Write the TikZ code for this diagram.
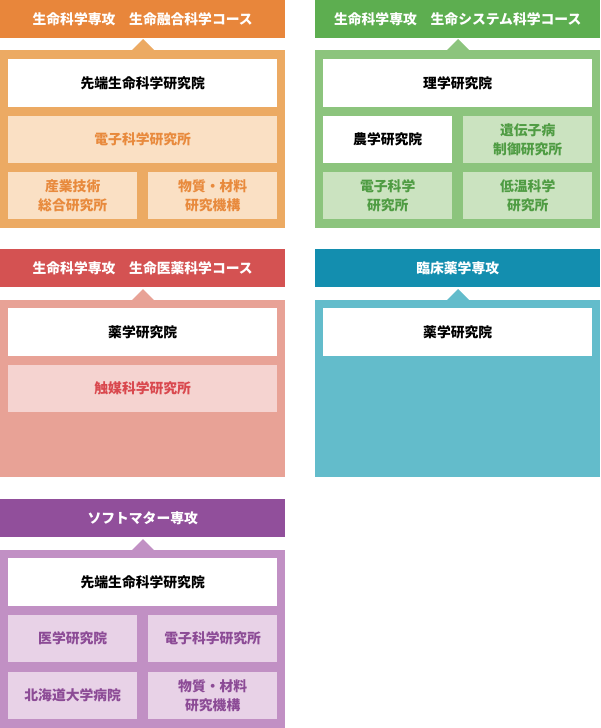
\documentclass[tikz,border=0pt]{standalone}
\usepackage{fontspec}
\setmainfont{Noto Sans CJK JP}
\newcommand{\jpfont}{\bfseries\fontsize{13.8}{18.5}\selectfont}

\definecolor{orHead}{HTML}{E8863B}
\definecolor{orBody}{HTML}{ECAA63}
\definecolor{orBox}{HTML}{FAE0C4}
\definecolor{orText}{HTML}{E88A3D}
\definecolor{grHead}{HTML}{5DAE50}
\definecolor{grBody}{HTML}{8CC47D}
\definecolor{grBox}{HTML}{CBE3C0}
\definecolor{grText}{HTML}{4F9C43}
\definecolor{rdHead}{HTML}{D45252}
\definecolor{rdBody}{HTML}{E8A296}
\definecolor{rdBox}{HTML}{F5D3D0}
\definecolor{rdText}{HTML}{D9484E}
\definecolor{tlHead}{HTML}{138EAF}
\definecolor{tlBody}{HTML}{63BCCB}
\definecolor{puHead}{HTML}{914F9B}
\definecolor{puBody}{HTML}{C190C4}
\definecolor{puBox}{HTML}{E8D2E7}
\definecolor{puText}{HTML}{8C4B96}

\tikzset{
    every node/.style={inner sep=0pt,anchor=north west,align=center,font=\jpfont},
    head/.style={fill=#1,text=white,minimum width=285pt,minimum height=38pt},
    whitebox/.style={fill=white,text=black,minimum width=269pt,minimum height=48pt},
    widebox/.style 2 args={fill=#1,text=#2,minimum width=269pt,minimum height=47pt},
    halfbox/.style 2 args={fill=#1,text=#2,minimum width=129pt,minimum height=47pt},
}

\begin{document}
\begin{tikzpicture}[x=1pt,y=-1pt]
\useasboundingbox (0,0) rectangle (600,728);

% orange
\begin{scope}
    \node[head=orHead] (orTitle) at (0,0) {生命科学専攻　生命融合科学コース};
    \fill[orBody] (0,50) rectangle (285,228);
    \fill[orBody] (132,50) -- (143,39) -- (154,50) -- cycle;
    \node[whitebox] (orSentan) at (8,59) {先端生命科学研究院};
    \node[widebox={orBox}{orText}] (orDenshi) at (8,116) {電子科学研究所};
    \node[halfbox={orBox}{orText}] (orSangyo) at (8,172) {産業技術\\総合研究所};
    \node[halfbox={orBox}{orText}] (orBusshitsu) at (148,172) {物質・材料\\研究機構};
\end{scope}

% green
\begin{scope}[shift={(315,0)}]
    \node[head=grHead] (grTitle) at (0,0) {生命科学専攻　生命システム科学コース};
    \fill[grBody] (0,50) rectangle (285,228);
    \fill[grBody] (132,50) -- (143,39) -- (154,50) -- cycle;
    \node[whitebox] (grRigaku) at (8,59) {理学研究院};
    \node[halfbox={white}{black}] (grNogaku) at (8,116) {農学研究院};
    \node[halfbox={grBox}{grText}] (grIden) at (148,116) {遺伝子病\\制御研究所};
    \node[halfbox={grBox}{grText}] (grDenshi) at (8,172) {電子科学\\研究所};
    \node[halfbox={grBox}{grText}] (grTeion) at (148,172) {低温科学\\研究所};
\end{scope}

% red
\begin{scope}[shift={(0,249)}]
    \node[head=rdHead] (rdTitle) at (0,0) {生命科学専攻　生命医薬科学コース};
    \fill[rdBody] (0,51) rectangle (285,228);
    \fill[rdBody] (132,51) -- (143,40) -- (154,51) -- cycle;
    \node[whitebox] (rdYakugaku) at (8,59) {薬学研究院};
    \node[widebox={rdBox}{rdText}] (rdShokubai) at (8,116) {触媒科学研究所};
\end{scope}

% teal
\begin{scope}[shift={(315,249)}]
    \node[head=tlHead] (tlTitle) at (0,0) {臨床薬学専攻};
    \fill[tlBody] (0,51) rectangle (285,228);
    \fill[tlBody] (132,51) -- (143,40) -- (154,51) -- cycle;
    \node[whitebox] (tlYakugaku) at (8,59) {薬学研究院};
\end{scope}

% purple
\begin{scope}[shift={(0,499)}]
    \node[head=puHead] (puTitle) at (0,0) {ソフトマター専攻};
    \fill[puBody] (0,51) rectangle (285,229);
    \fill[puBody] (132,51) -- (143,40) -- (154,51) -- cycle;
    \node[whitebox] (puSentan) at (8,59) {先端生命科学研究院};
    \node[halfbox={puBox}{puText}] (puIgaku) at (8,116) {医学研究院};
    \node[halfbox={puBox}{puText}] (puDenshi) at (148,116) {電子科学研究所};
    \node[halfbox={puBox}{puText}] (puByoin) at (8,173) {北海道大学病院};
    \node[halfbox={puBox}{puText}] (puBusshitsu) at (148,173) {物質・材料\\研究機構};
\end{scope}
\end{tikzpicture}
\end{document}
